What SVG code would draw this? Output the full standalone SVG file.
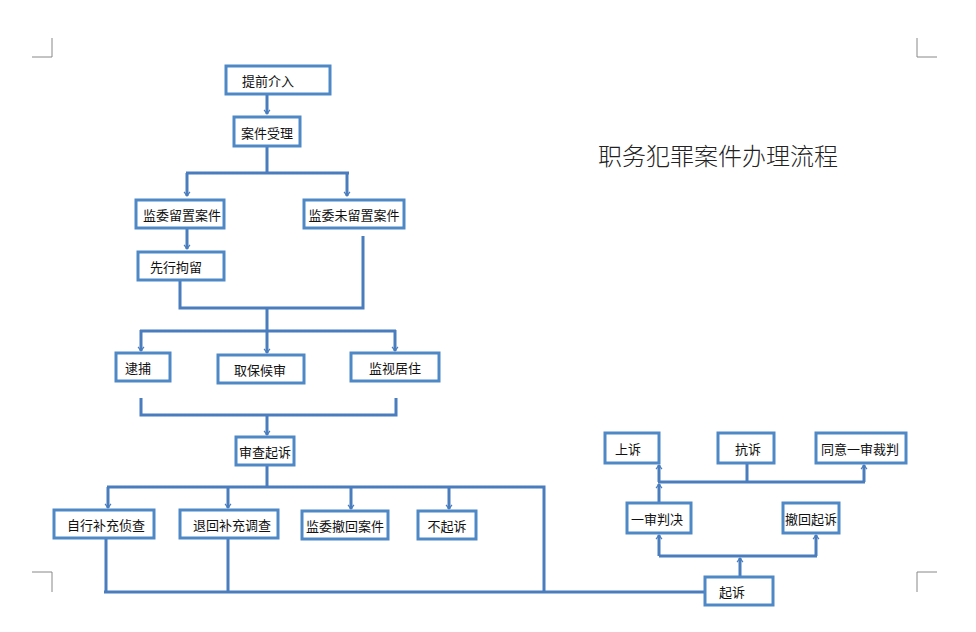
<svg xmlns="http://www.w3.org/2000/svg" width="976" height="632" viewBox="0 0 976 632">
<style>
.b{fill:#fff;stroke:#4f88c6;stroke-width:3}
.t{font-family:"Noto Sans CJK SC","Liberation Sans",sans-serif;font-size:13px;fill:#111;text-anchor:middle;dominant-baseline:central}
.l{fill:none;stroke:#4a7dbd;stroke-width:3}
.a{fill:none;stroke:#4a7dbd;stroke-width:3;marker-end:url(#m)}
.c{fill:none;stroke:#888;stroke-width:1}
</style>
<defs><marker id="m" viewBox="0 0 12 12" refX="10" refY="6" markerWidth="5" markerHeight="5" orient="auto" markerUnits="userSpaceOnUse" overflow="visible"><path d="M0,-1 L10,6 L0,13" fill="none" stroke="#4a7dbd" stroke-width="3"/></marker></defs>
<rect width="976" height="632" fill="#fff"/>
<g id="corners"><path class="c" d="M52,38V57H32M917,38V57H937M32,572H52V592M937,572H917V592"/></g>
<text x="718" y="154" font-family="'Noto Sans CJK SC',sans-serif" font-size="24" font-weight="300" fill="#222" text-anchor="middle" dominant-baseline="central">职务犯罪案件办理流程</text>
<g id="connectors">
<path class="a" d="M267,94V114"/>
<path class="l" d="M267,146V172M186,173H349"/>
<path class="a" d="M187,173V196"/><path class="a" d="M347,173V196"/>
<path class="a" d="M187,228V249"/>
<path class="l" d="M180,280V308H363V236"/>
<path class="l" d="M267,308V330M140,331H396"/>
<path class="a" d="M141,330V351"/><path class="a" d="M267,330V353"/><path class="a" d="M395,330V351"/>
<path class="l" d="M141,398V415H396V398"/>
<path class="a" d="M267,415V435"/>
<path class="l" d="M267,465V487M107,487H544V592"/>
<path class="a" d="M108,487V508"/><path class="a" d="M228,487V508"/><path class="a" d="M351,487V509"/><path class="a" d="M449,487V509"/>
<path class="l" d="M106,538V592M228,538V592M104,592H705"/>
<path class="a" d="M740,577V558"/>
<path class="l" d="M659,556H817"/>
<path class="a" d="M659,556V535"/><path class="a" d="M816,556V535"/>
<path class="a" d="M659,503V484"/>
<path class="l" d="M658,482H865M747,482V463"/>
<path class="a" d="M659,482V465"/><path class="a" d="M864,482V465"/>
</g>
<g id="n1"><rect class="b" x="226" y="66" width="104" height="28"/><text class="t" x="268" y="80">提前介入</text></g>
<g id="n2"><rect class="b" x="234" y="117" width="66" height="29"/><text class="t" x="267" y="132">案件受理</text></g>
<g id="n3"><rect class="b" x="136" y="200" width="88" height="28"/><text class="t" x="182" y="214">监委留置案件</text></g>
<g id="n4"><rect class="b" x="304" y="200" width="100" height="28"/><text class="t" x="354" y="214">监委未留置案件</text></g>
<g id="n5"><rect class="b" x="138" y="252" width="86" height="28"/><text class="t" x="176" y="266">先行拘留</text></g>
<g id="n6"><rect class="b" x="116" y="353" width="54" height="28"/><text class="t" x="138" y="367">逮捕</text></g>
<g id="n7"><rect class="b" x="218" y="355" width="86" height="28"/><text class="t" x="260" y="369">取保候审</text></g>
<g id="n8"><rect class="b" x="351" y="353" width="88" height="28"/><text class="t" x="395" y="367">监视居住</text></g>
<g id="n9"><rect class="b" x="236" y="437" width="58" height="28"/><text class="t" x="265" y="451">审查起诉</text></g>
<g id="n10"><rect class="b" x="54" y="510" width="100" height="28"/><text class="t" x="106" y="524">自行补充侦查</text></g>
<g id="n11"><rect class="b" x="180" y="510" width="98" height="28"/><text class="t" x="232" y="524">退回补充调查</text></g>
<g id="n12"><rect class="b" x="302" y="511" width="86" height="28"/><text class="t" x="345" y="525">监委撤回案件</text></g>
<g id="n13"><rect class="b" x="418" y="511" width="58" height="28"/><text class="t" x="447" y="525">不起诉</text></g>
<g id="n14"><rect class="b" x="705" y="577" width="68" height="28"/><text class="t" x="732" y="591">起诉</text></g>
<g id="n15"><rect class="b" x="627" y="503" width="64" height="30"/><text class="t" x="657" y="518">一审判决</text></g>
<g id="n16"><rect class="b" x="783" y="503" width="56" height="30"/><text class="t" x="811" y="518">撤回起诉</text></g>
<g id="n17"><rect class="b" x="605" y="433" width="54" height="30"/><text class="t" x="628" y="448">上诉</text></g>
<g id="n18"><rect class="b" x="718" y="433" width="56" height="30"/><text class="t" x="748" y="448">抗诉</text></g>
<g id="n19"><rect class="b" x="816" y="433" width="90" height="30"/><text class="t" x="860" y="448">同意一审裁判</text></g>
</svg>
